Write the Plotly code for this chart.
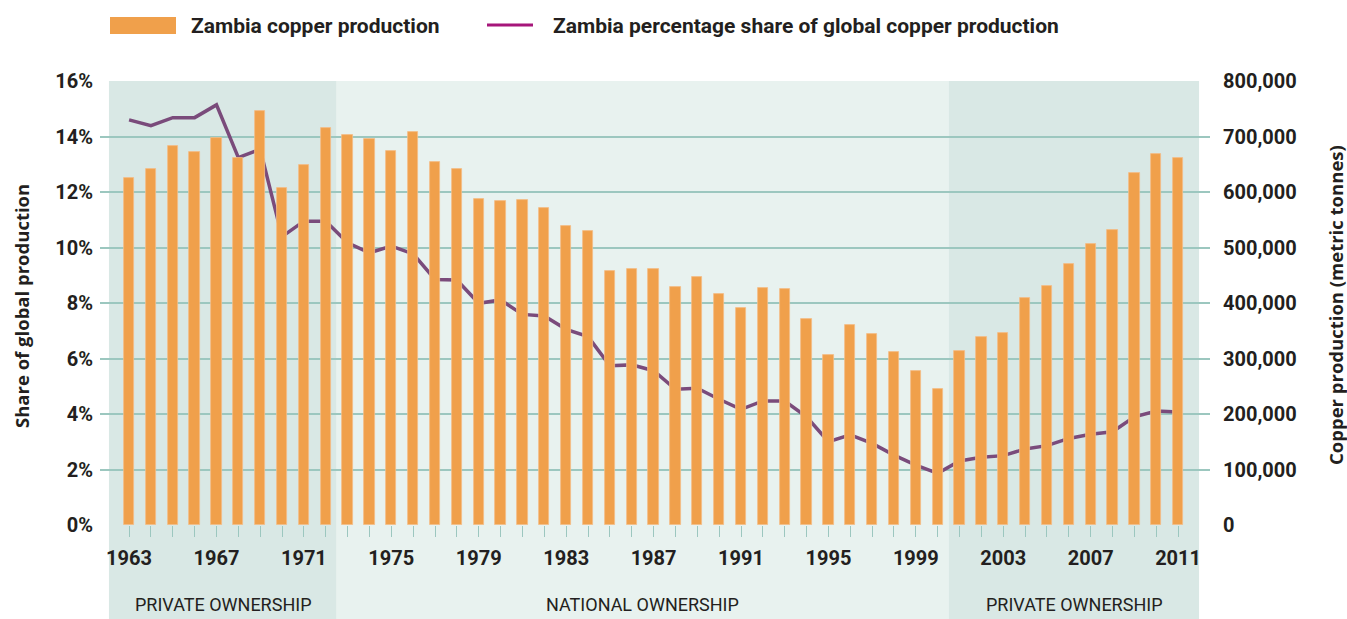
import plotly.graph_objects as go

years = list(range(1963, 2012))
production = [625000, 641000, 683000, 672000, 697000, 661000, 746000, 607000, 649000, 715000,
              703000, 695000, 674000, 708000, 654000, 641000, 587000, 584000, 586000, 571000,
              539000, 530000, 458000, 461000, 461000, 429000, 447000, 416000, 391000, 427000,
              425000, 371000, 306000, 360000, 344000, 312000, 277000, 245000, 314000, 339000,
              346000, 409000, 431000, 470000, 506000, 532000, 634000, 668000, 661000]
share = [14.6, 14.39, 14.68, 14.68, 15.14, 13.24, 13.54, 10.39, 10.95, 10.95,
         10.17, 9.81, 10.05, 9.77, 8.85, 8.83, 7.99, 8.11, 7.59, 7.53,
         7.05, 6.79, 5.74, 5.77, 5.56, 4.89, 4.93, 4.53, 4.17, 4.47,
         4.47, 3.90, 3.00, 3.25, 2.94, 2.52, 2.16, 1.86, 2.31, 2.44,
         2.50, 2.74, 2.86, 3.12, 3.27, 3.36, 3.90, 4.11, 4.07]
label_years = list(range(1963, 2012, 4))
periods = [("PRIVATE OWNERSHIP", 1962.08, 1972.5), ("NATIONAL OWNERSHIP", 1972.5, 2000.5),
           ("PRIVATE OWNERSHIP", 2000.5, 2011.96)]
period_colors = ["#d9e8e5", "#e8f2ef", "#d9e8e5"]

ORANGE = "#f0a04b"
PURPLE = "#7a4b7b"
MAGENTA = "#a6167a"
TEXT = "#231f20"
GRID = "#9cc7bf"
FONT = "Roboto"

W, H = 1347, 619
L, R, T, B = 100, 1210, 81, 525


def px(x):
    return (x - L) / (R - L)


def py(y):
    return (B - y) / (B - T)


fig = go.Figure()
fig.add_trace(go.Bar(x=years, y=production, yaxis="y2", width=0.47,
                     marker=dict(color=ORANGE, line=dict(color="#f4bd85", width=0.8)),
                     name="Zambia copper production", showlegend=False))
fig.add_trace(go.Scatter(x=years, y=share, yaxis="y", mode="lines",
                         line=dict(color=PURPLE, width=3.5),
                         name="Zambia percentage share of global copper production", showlegend=False))

shapes = []
annotations = []
for (name, x0, x1), c in zip(periods, period_colors):
    shapes.append(dict(type="rect", xref="x", yref="paper", x0=x0, x1=x1, y0=py(619), y1=1,
                       fillcolor=c, line=dict(width=0), layer="below"))
    annotations.append(dict(text=name, xref="x", yref="paper", x=(x0 + x1) / 2, y=py(604),
                            showarrow=False, font=dict(family=FONT, size=18, color=TEXT),
                            xanchor="center", yanchor="middle"))

# legend
shapes.append(dict(type="rect", xref="paper", yref="paper", x0=px(110), x1=px(176), y0=py(34), y1=py(17),
                   fillcolor=ORANGE, line=dict(width=0)))
shapes.append(dict(type="line", xref="paper", yref="paper", x0=px(487), x1=px(533), y0=py(25), y1=py(25),
                   line=dict(color=MAGENTA, width=3)))
annotations.append(dict(text="<b>Zambia copper production</b>", xref="paper", yref="paper",
                        x=px(189), y=py(26), xanchor="left", yanchor="middle", showarrow=False,
                        font=dict(family=FONT, size=21, color=TEXT)))
annotations.append(dict(text="<b>Zambia percentage share of global copper production</b>", xref="paper",
                        yref="paper", x=px(551), y=py(26), xanchor="left", yanchor="middle", showarrow=False,
                        font=dict(family=FONT, size=21, color=TEXT)))
# axis titles
annotations.append(dict(text="<b>Share of global production</b>", xref="paper", yref="paper",
                        x=px(21), y=py(306), textangle=-90, showarrow=False,
                        xanchor="center", yanchor="middle",
                        font=dict(family="Open Sans", size=18.5, color=TEXT)))
annotations.append(dict(text="<b>Copper production (metric tonnes)</b>", xref="paper", yref="paper",
                        x=px(1335), y=py(305), textangle=-90, showarrow=False,
                        xanchor="center", yanchor="middle",
                        font=dict(family="Open Sans", size=18.5, color=TEXT)))

fig.update_layout(
    width=W, height=H,
    margin=dict(l=L, r=W - R, t=T, b=H - B, pad=0),
    paper_bgcolor="white", plot_bgcolor="rgba(0,0,0,0)",
    shapes=shapes, annotations=annotations, bargap=0,
    xaxis=dict(range=[1961.67, 2012.46], tickmode="array", tickvals=years,
               ticktext=[str(y) if y in label_years else "" for y in years],
               ticks="outside", ticklen=11, tickcolor=GRID, tickwidth=1,
               ticklabelstandoff=4,
               tickfont=dict(family=FONT, size=20, color=TEXT, weight="bold"),
               showgrid=False, zeroline=False, showline=False),
    yaxis=dict(range=[0, 16], dtick=2, ticksuffix="%", showgrid=True, gridcolor=GRID, gridwidth=1.5,
               zeroline=False, ticklabelstandoff=6,
               tickfont=dict(family=FONT, size=20, color=TEXT, weight="bold")),
    yaxis2=dict(range=[0, 800000], dtick=100000, tickformat=",", overlaying="y", side="right",
                showgrid=False, zeroline=False, ticklabelstandoff=12,
                tickfont=dict(family=FONT, size=20, color=TEXT, weight="bold")),
)

fig.write_html("out.html", config={"displayModeBar": False},
               post_script="document.body.style.margin='0';document.body.style.overflow='hidden';")
